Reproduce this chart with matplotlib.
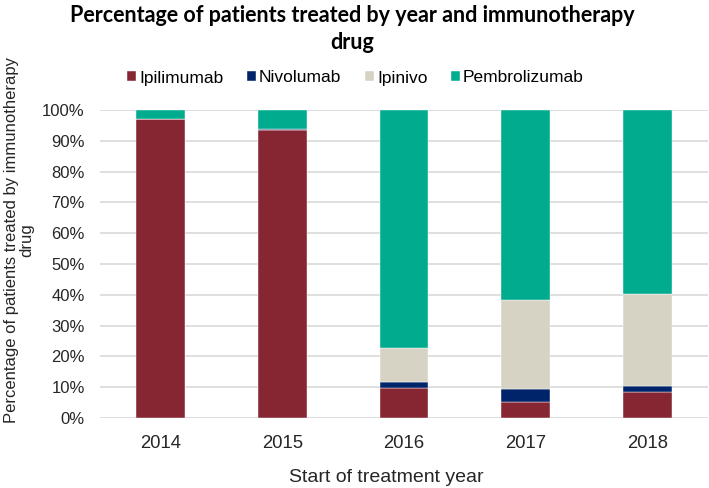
"""
stacked percentage bars per year and immunotherapy drug
"""

import matplotlib.pyplot as plt
import numpy as np

years = ['2014', '2015', '2016', '2017', '2018']
drugs = ['Ipilimumab', 'Nivolumab', 'Ipinivo', 'Pembrolizumab']
ipilimumab = [97.1, 93.5, 9.7, 5.3, 8.4]
nivolumab = [0.0, 0.3, 2.0, 4.1, 1.9]
ipinivo = [0.0, 0.0, 10.9, 28.8, 29.8]
pembrolizumab = [2.9, 6.2, 77.4, 61.8, 59.9]
colors = ['#862633', '#002469', '#D6D2C4', '#00AB8E']

series = [ipilimumab, nivolumab, ipinivo, pembrolizumab]

W, H = 709, 488
fig = plt.figure(figsize=(W / 100, H / 100), dpi=100)
ax = fig.add_axes([100 / W, 1 - 418 / H, 608 / W, 308 / H])

x = np.arange(len(years))
bottom = np.zeros(len(years))
for name, vals, c in zip(drugs, series, colors):
    vals = np.array(vals) / 100.0
    ax.bar(x, vals, 0.4, bottom=bottom, color=c, label=name,
           edgecolor='white', linewidth=0.3, zorder=3)
    bottom += vals

ax.set_xlim(-0.5, len(years) - 0.5)
ax.set_ylim(0, 1.0)
ax.set_yticks(np.arange(0, 1.01, 0.1))
ax.set_yticklabels(['%d%%' % v for v in range(0, 101, 10)],
                   fontsize=12, family='Liberation Sans', color='#262626')
ax.set_xticks(x)
ax.set_xticklabels(years, fontsize=13.3, family='Liberation Sans', color='#262626')
ax.tick_params(axis='y', length=0, pad=11)
ax.tick_params(axis='x', length=0, pad=12)
ax.yaxis.grid(True, color='#d9d9d9', linewidth=1.2, zorder=0)
for s in ax.spines.values():
    s.set_visible(False)

# axis titles placed in figure pixels like the original
fig.text(386 / W, 1 - 478 / H, 'Start of treatment year', ha='center', va='center',
         fontsize=14, family='Liberation Sans', color='#262626')
fig.text(19 / W, 1 - 240 / H, 'Percentage of patients treated by immunotherapy\ndrug',
         ha='center', va='center', rotation=90, multialignment='center',
         fontsize=12, family='Liberation Sans', color='#262626', linespacing=1.0)

fig.text(352 / W, 1 - 5 / H, 'Percentage of patients treated by year and immunotherapy\ndrug',
         ha='center', va='top', fontsize=15.5, fontweight='bold', family='Lato',
         linespacing=1.35)

fig.legend(loc='center', bbox_to_anchor=(355.5 / W, 1 - 78 / H), ncol=4, frameon=False,
           prop={'family': 'Liberation Sans', 'size': 12.5},
           handlelength=0.5, handleheight=0.5, handletextpad=0.2, columnspacing=1.35)

fig.savefig('out.png', dpi=100)
plt.close(fig)
